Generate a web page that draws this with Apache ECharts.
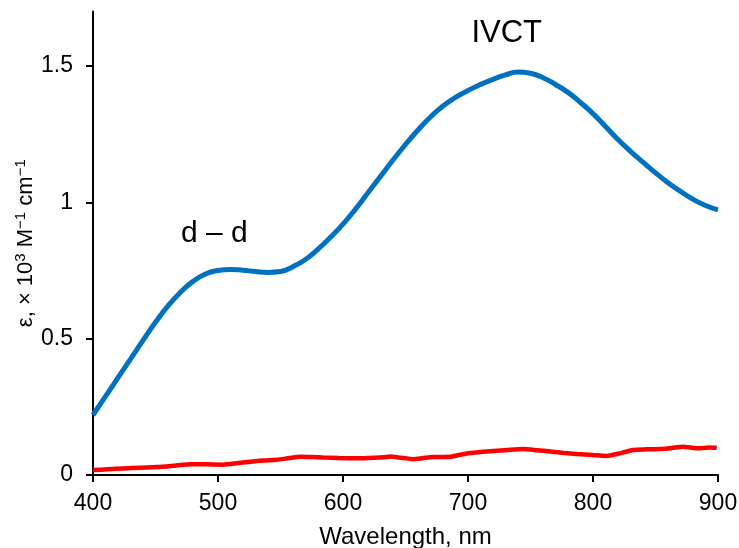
<!DOCTYPE html>
<html>
<head>
<meta charset="utf-8">
<script src="https://cdn.jsdelivr.net/npm/echarts@6/dist/echarts.min.js"></script>
<style>
  html, body { margin: 0; padding: 0; background: #fff; }
  #chart { width: 739px; height: 548px; }
</style>
</head>
<body>
<div id="chart"></div>
<script>
// Absorption spectrum: wavelength (nm) vs molar absorptivity (×10³ M⁻¹ cm⁻¹)
const blueWavelength = [400, 410, 420, 430, 440, 450, 460, 470, 480, 490, 500, 510, 520, 530, 540, 550,
  560, 570, 580, 590, 600, 610, 620, 630, 640, 650, 660, 670, 680, 690, 700, 710, 720, 730, 740, 750,
  760, 770, 780, 790, 800, 810, 820, 830, 840, 850, 860, 870, 880, 890, 900];
const blueEpsilon = [0.22, 0.288, 0.357, 0.425, 0.494, 0.560, 0.620, 0.670, 0.710, 0.737, 0.750, 0.754, 0.751, 0.746, 0.743, 0.746,
  0.764, 0.790, 0.828, 0.872, 0.920, 0.975, 1.035, 1.095, 1.155, 1.212, 1.265, 1.313, 1.353, 1.385, 1.410, 1.432, 1.451, 1.467, 1.478, 1.473,
  1.457, 1.432, 1.403, 1.366, 1.325, 1.278, 1.230, 1.187, 1.147, 1.108, 1.072, 1.040, 1.011, 0.988, 0.972];

const redWavelength = [400, 412, 424, 438, 451, 465, 478, 490, 504, 515, 526, 537, 547, 557, 566, 575,
  584, 597, 611, 625, 635, 638, 645, 651, 656, 664, 672, 686, 699, 710, 720, 732, 744, 755, 766, 777,
  787, 800, 811, 820, 832, 843, 854, 863, 872, 879, 886, 893, 899];
const redEpsilon = [0.018, 0.021, 0.024, 0.027, 0.029, 0.034, 0.039, 0.039, 0.038, 0.043, 0.049, 0.053, 0.056, 0.062, 0.067, 0.066,
  0.064, 0.062, 0.061, 0.063, 0.066, 0.068, 0.064, 0.061, 0.058, 0.062, 0.066, 0.067, 0.079, 0.084, 0.088, 0.092, 0.095, 0.091, 0.086, 0.081,
  0.077, 0.073, 0.070, 0.078, 0.092, 0.094, 0.095, 0.099, 0.104, 0.100, 0.098, 0.101, 0.100];

const yTickValues = [0, 0.5, 1, 1.5];

// Band annotations, placed in data coordinates
const bandLabels = [
  { text: 'IVCT', at: [731, 1.618], size: 31 },
  { text: 'd \u2013 d', at: [497, 0.885], size: 30 }
];

const FONT = 'Liberation Sans, Arial, sans-serif';

const zip = (xs, ys) => xs.map((x, i) => [x, ys[i]]);

const chart = echarts.init(document.getElementById('chart'), null, { renderer: 'canvas' });

chart.setOption({
  animation: false,
  backgroundColor: '#fff',
  textStyle: { fontFamily: FONT, color: '#000' },
  grid: { left: 93, right: 21, top: 11.4, bottom: 73, containLabel: false, outerBoundsMode: 'none' },
  xAxis: {
    type: 'value',
    min: 400, max: 900, interval: 100,
    name: 'Wavelength, nm',
    nameLocation: 'middle',
    nameGap: 50,
    nameMoveOverlap: false,
    nameTextStyle: { fontFamily: FONT, fontSize: 24, color: '#000' },
    axisLine: { show: true, onZero: false, lineStyle: { color: '#000', width: 2 } },
    axisTick: { show: true, inside: false, length: 7, lineStyle: { color: '#000', width: 2 } },
    axisLabel: { fontFamily: FONT, fontSize: 23, color: '#000', margin: 17 },
    splitLine: { show: false }
  },
  yAxis: {
    type: 'value',
    min: 0, max: 1.7,
    name: '{a|\u03b5, \u00d7 10}{s|3}{a| M}{s|\u22121}{a| cm}{s|\u22121}',
    nameLocation: 'middle',
    nameRotate: 90,
    nameGap: 56,
    nameMoveOverlap: false,
    nameTextStyle: {
      fontFamily: FONT,
      rich: {
        a: { fontFamily: FONT, fontSize: 22, color: '#000', lineHeight: 24, verticalAlign: 'bottom' },
        s: { fontFamily: FONT, fontSize: 15, color: '#000', lineHeight: 15, verticalAlign: 'top' }
      }
    },
    axisLine: { show: true, onZero: false, lineStyle: { color: '#000', width: 2 } },
    axisTick: { show: true, inside: false, length: 7, customValues: yTickValues, lineStyle: { color: '#000', width: 2 } },
    axisLabel: { fontFamily: FONT, fontSize: 23, color: '#000', margin: 20, customValues: yTickValues },
    splitLine: { show: false }
  },
  series: [
    {
      name: 'red',
      type: 'line',
      data: zip(redWavelength, redEpsilon),
      showSymbol: false,
      smooth: 0.2,
      lineStyle: { color: '#ff0000', width: 4.5 },
      z: 2
    },
    {
      name: 'blue',
      type: 'line',
      data: zip(blueWavelength, blueEpsilon),
      showSymbol: false,
      smooth: 0.5,
      lineStyle: { color: '#0070c0', width: 5 },
      z: 3
    }
  ]
});

// Annotation texts positioned through the chart's own coordinate system
chart.setOption({
  graphic: bandLabels.map(b => {
    const p = chart.convertToPixel({ gridIndex: 0 }, b.at);
    return {
      type: 'text',
      x: p[0], y: p[1],
      style: {
        text: b.text,
        fontFamily: FONT,
        fontSize: b.size,
        fill: '#000',
        align: 'center',
        verticalAlign: 'middle'
      }
    };
  })
});
</script>
</body>
</html>
